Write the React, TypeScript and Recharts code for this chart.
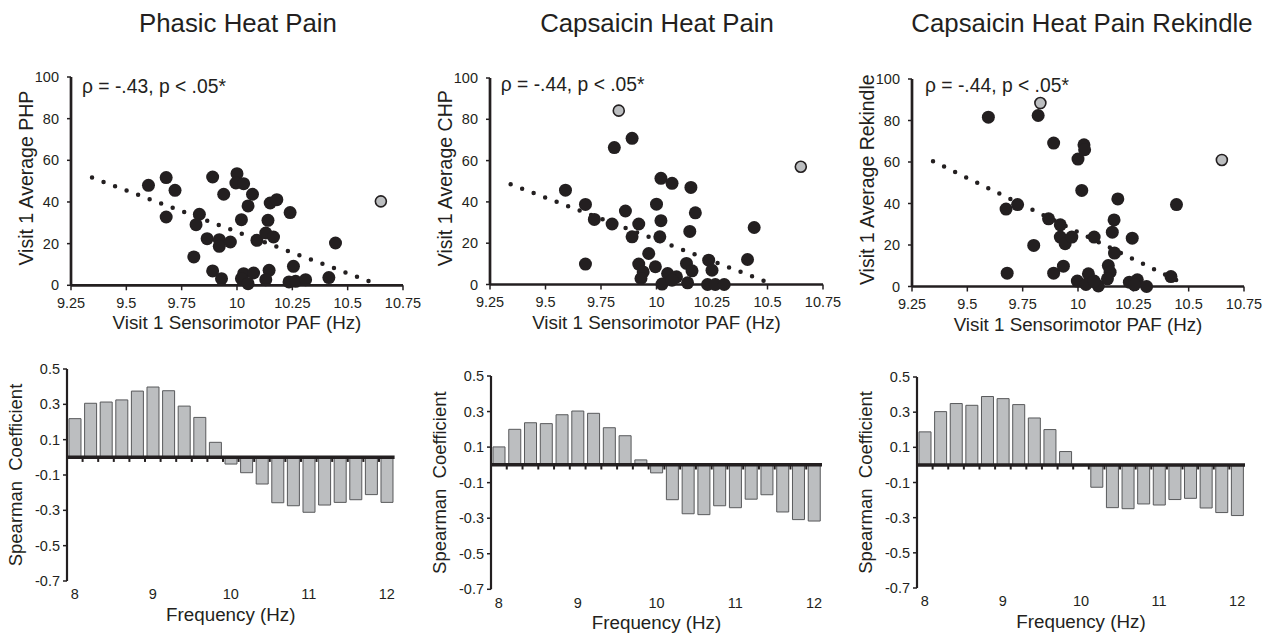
import {
  Bar,
  BarChart,
  ReferenceLine,
  Scatter,
  ScatterChart,
  XAxis,
  YAxis,
} from "recharts";

const FONT = '"Liberation Sans", Arial, sans-serif';
const INK = "#231f20";

// axis ticks
const pafTicks = [9.25, 9.5, 9.75, 10, 10.25, 10.5, 10.75];
const painTicks = [0, 20, 40, 60, 80, 100];
const freqTicks = [8, 9, 10, 11, 12];
const rhoTicks = [-0.7, -0.5, -0.3, -0.1, 0.1, 0.3, 0.5];

// top row: [PAF (Hz), pain rating]
const phpPoints: [number, number][] = [
  [9.6, 48], [9.68, 51.7], [9.72, 45.6], [9.68, 32.8], [9.89, 52], [10.0, 53.6],
  [9.995, 49.1], [10.03, 48.8], [9.94, 43.7], [10.07, 43.7], [10.05, 38.1], [10.02, 31.5],
  [10.15, 39.5], [10.18, 41.1], [10.24, 34.9], [9.83, 34.1], [9.815, 29.1], [10.14, 31.2],
  [9.865, 22.4], [9.92, 21.9], [9.92, 18.7], [9.97, 20.8], [10.09, 21.6], [10.13, 25.1],
  [10.165, 23.2], [9.805, 13.6], [10.445, 20.3], [9.89, 6.9], [9.93, 3.2], [10.03, 5.6],
  [10.075, 5.9], [10.02, 3.2], [10.05, 0.8], [10.145, 7.2], [10.13, 2.7], [10.255, 9.1],
  [10.235, 1.6], [10.265, 1.9], [10.31, 2.7], [10.415, 3.7],
];
const phpOutliers: [number, number][] = [[10.65, 40.3]];
const phpTrend: [number, number][] = [[9.345, 51.7], [10.638, 0.3]];

const chpPoints: [number, number][] = [
  [9.59, 45.7], [9.68, 38.8], [9.68, 9.9], [9.72, 31.5], [9.81, 66.3], [9.89, 70.8],
  [9.86, 35.6], [9.8, 29.3], [9.92, 29.3], [9.89, 23.1], [10.0, 38.9], [10.02, 51.4],
  [10.07, 49], [10.02, 30.9], [10.015, 23.1], [10.155, 47], [10.175, 34.7], [10.15, 25.7],
  [9.965, 15], [9.92, 9.9], [9.94, 6.1], [9.93, 2.9], [9.995, 8.6], [10.025, 0.2],
  [10.05, 5.3], [10.09, 3.7], [10.07, 2.1], [10.135, 10.2], [10.16, 6.6], [10.14, 0.8],
  [10.235, 11.8], [10.25, 6.9], [10.23, 0], [10.265, 0], [10.305, 0], [10.41, 12.1],
  [10.44, 27.6],
];
const chpOutliers: [number, number][] = [[9.83, 84.2], [10.65, 57]];
const chpTrend: [number, number][] = [[9.343, 48.5], [10.528, 0]];

const rekPoints: [number, number][] = [
  [9.595, 81.6], [9.82, 82.4], [9.89, 69.1], [10.0, 61.4], [10.027, 68.3], [10.03, 65.9],
  [10.017, 46.3], [10.18, 42.2], [10.445, 39.5], [9.675, 37.3], [9.727, 39.5], [9.867, 32.6],
  [9.92, 29.7], [9.92, 23.8], [9.942, 20.6], [9.972, 23.8], [10.073, 23.8], [10.163, 32.1],
  [10.155, 26.2], [10.245, 23.3], [9.8, 19.8], [10.165, 16.1], [9.68, 6.4], [9.89, 6.4],
  [9.934, 9.8], [9.997, 2.6], [10.047, 6.1], [10.036, 1], [10.092, 0.3], [10.073, 2.6],
  [10.137, 10.1], [10.145, 6.9], [10.133, 3.7], [10.232, 2.1], [10.268, 3.2], [10.255, 0.8],
  [10.31, 0], [10.42, 4.8],
];
const rekOutliers: [number, number][] = [[9.83, 88.4], [10.65, 61]];
const rekTrend: [number, number][] = [[9.345, 60.4], [10.488, 0.8]];

// bottom row: spearman coefficient per frequency bin
const frequencies = [
  8, 8.2, 8.4, 8.6, 8.8, 9, 9.2, 9.4, 9.6, 9.8, 10, 10.2, 10.4, 10.6, 10.8, 11, 11.2, 11.4,
  11.6, 11.8, 12,
];
const phpRho = [
  0.219, 0.306, 0.313, 0.325, 0.375, 0.398, 0.377, 0.29, 0.226, 0.085, -0.038, -0.087,
  -0.151, -0.257, -0.274, -0.311, -0.27, -0.255, -0.24, -0.211, -0.255,
];
const chpRho = [
  0.101, 0.2, 0.237, 0.232, 0.282, 0.303, 0.29, 0.209, 0.164, 0.028, -0.045, -0.196,
  -0.275, -0.28, -0.23, -0.241, -0.193, -0.168, -0.265, -0.308, -0.316,
];
const rekRho = [
  0.188, 0.303, 0.349, 0.339, 0.389, 0.377, 0.343, 0.267, 0.201, 0.076, 0, -0.127,
  -0.243, -0.249, -0.222, -0.228, -0.197, -0.19, -0.245, -0.271, -0.288,
];

const toXY = (pts: [number, number][]) => pts.map(([x, y]) => ({ x, y }));

const blackDot = (p: any) => <circle cx={p.cx} cy={p.cy} r={6.5} fill={INK} />;
const grayDot = (p: any) => (
  <circle cx={p.cx} cy={p.cy} r={5.5} fill="#bcbec0" stroke={INK} strokeWidth={1.6} />
);

const tickStyle = { fill: INK, fontSize: 14.5 };

type ScatterProps = {
  left: number;
  top: number;
  width: number;
  height: number;
  points: [number, number][];
  outliers: [number, number][];
  trend: [number, number][];
  yTitle: string;
};

function ScatterPanel({ left, top, width, height, points, outliers, trend, yTitle }: ScatterProps) {
  const yAxisW = 80;
  const mTop = 10;
  return (
    <div style={{ position: "absolute", left: left - yAxisW, top: top - mTop }}>
      <ScatterChart
        width={width + yAxisW + 25}
        height={height + mTop + 60}
        margin={{ top: mTop, right: 25, left: 0, bottom: 0 }}
      >
        <XAxis
          type="number"
          dataKey="x"
          domain={[9.25, 10.75]}
          ticks={pafTicks}
          interval={0}
          height={60}
          axisLine={{ stroke: INK, strokeWidth: 2.7 }}
          tickLine={{ stroke: INK, strokeWidth: 1.5 }}
          tickSize={5}
          tickMargin={7}
          tick={tickStyle}
          label={{
            content: () => (
              <text
                x={yAxisW + width / 2}
                y={mTop + height + 44}
                textAnchor="middle"
                fontSize={18.8}
                fill={INK}
              >
                Visit 1 Sensorimotor PAF (Hz)
              </text>
            ),
          }}
        />
        <YAxis
          type="number"
          dataKey="y"
          domain={[0, 100]}
          ticks={painTicks}
          interval={0}
          width={yAxisW}
          axisLine={{ stroke: INK, strokeWidth: 2.7 }}
          tickLine={{ stroke: INK, strokeWidth: 1.5 }}
          tickSize={4}
          tickMargin={8}
          tick={tickStyle}
          label={{
            content: () => {
              const x = yAxisW - 38;
              const y = mTop + height / 2 - 3;
              return (
                <text
                  x={x}
                  y={y}
                  transform={`rotate(-90 ${x} ${y})`}
                  textAnchor="middle"
                  fontSize={19.5}
                  fill={INK}
                >
                  {yTitle}
                </text>
              );
            },
          }}
        />
        <ReferenceLine
          segment={[
            { x: trend[0][0], y: trend[0][1] },
            { x: trend[1][0], y: trend[1][1] },
          ]}
          stroke={INK}
          strokeWidth={4.5}
          strokeDasharray="0 12.3"
          strokeLinecap="round"
        />
        <Scatter data={toXY(points)} shape={blackDot} isAnimationActive={false} />
        <Scatter data={toXY(outliers)} shape={grayDot} isAnimationActive={false} />
      </ScatterChart>
    </div>
  );
}

type BarProps = {
  left: number;
  top: number;
  width: number;
  height: number;
  values: number[];
};

function BarPanel({ left, top, width, height, values }: BarProps) {
  const yAxisW = 80;
  const mTop = 10;
  const data = frequencies.map((f, i) => ({ f, v: values[i] }));
  const edges = frequencies.slice(1).map((f, i) => (f + frequencies[i]) / 2);
  return (
    <div style={{ position: "absolute", left: left - yAxisW, top: top - mTop }}>
      <BarChart
        width={width + yAxisW + 15}
        height={height + mTop + 50}
        margin={{ top: mTop, right: 15, left: 0, bottom: 0 }}
        data={data}
      >
        <XAxis
          type="number"
          dataKey="f"
          domain={[7.9, 12.1]}
          ticks={freqTicks}
          interval={0}
          height={50}
          axisLine={false}
          tickLine={false}
          tickSize={0}
          tickMargin={8}
          tick={tickStyle}
          label={{
            content: () => (
              <text
                x={yAxisW + width / 2}
                y={mTop + height + 40}
                textAnchor="middle"
                fontSize={18.8}
                fill={INK}
              >
                Frequency (Hz)
              </text>
            ),
          }}
        />
        <YAxis
          type="number"
          domain={[-0.7, 0.5]}
          ticks={rhoTicks}
          interval={0}
          width={yAxisW}
          axisLine={{ stroke: INK, strokeWidth: 2.2 }}
          tickLine={{ stroke: INK, strokeWidth: 1.5 }}
          tickSize={4}
          tickMargin={3}
          tick={tickStyle}
          label={{
            content: () => {
              const x = yAxisW - 51;
              const y = mTop + height / 2;
              return (
                <text
                  x={x}
                  y={y}
                  dy={6}
                  transform={`rotate(-90 ${x} ${y})`}
                  textAnchor="middle"
                  fontSize={18.5}
                  fill={INK}
                >
                  {"Spearman\u00a0 Coefficient"}
                </text>
              );
            },
          }}
        />
        <Bar
          dataKey="v"
          barSize={12}
          fill="#bcbec0"
          stroke="#58595b"
          strokeWidth={1}
          isAnimationActive={false}
        />
        <ReferenceLine y={0} stroke={INK} strokeWidth={3.5} />
        {edges.map((e) => (
          <ReferenceLine
            key={e}
            segment={[
              { x: e, y: 0 },
              { x: e, y: -0.026 },
            ]}
            stroke={INK}
            strokeWidth={2}
          />
        ))}
      </BarChart>
    </div>
  );
}

const titleStyle = (cx: number): React.CSSProperties => ({
  position: "absolute",
  left: cx - 250,
  width: 500,
  top: 11,
  textAlign: "center",
  fontSize: 25.8,
  lineHeight: "25.8px",
  whiteSpace: "nowrap",
});

const noteStyle = (x: number, baseline: number): React.CSSProperties => ({
  position: "absolute",
  left: x,
  top: baseline - 16.3,
  fontSize: 19.3,
  lineHeight: "19.3px",
  whiteSpace: "nowrap",
});

export default function App() {
  return (
    <div
      style={{
        position: "absolute",
        left: 0,
        top: 0,
        width: 1264,
        height: 634,
        overflow: "hidden",
        background: "#fff",
        fontFamily: FONT,
        color: INK,
      }}
    >
      <div style={titleStyle(238)}>Phasic Heat Pain</div>
      <div style={titleStyle(657)}>Capsaicin Heat Pain</div>
      <div style={titleStyle(1082)}>Capsaicin Heat Pain Rekindle</div>

      <ScatterPanel
        left={71}
        top={76.7}
        width={332}
        height={208.3}
        points={phpPoints}
        outliers={phpOutliers}
        trend={phpTrend}
        yTitle="Visit 1 Average PHP"
      />
      <ScatterPanel
        left={489.5}
        top={77.8}
        width={333}
        height={206.5}
        points={chpPoints}
        outliers={chpOutliers}
        trend={chpTrend}
        yTitle="Visit 1 Average CHP"
      />
      <ScatterPanel
        left={912}
        top={78.5}
        width={332}
        height={207.5}
        points={rekPoints}
        outliers={rekOutliers}
        trend={rekTrend}
        yTitle="Visit 1 Average Rekindle"
      />

      <div style={noteStyle(82, 93)}>ρ = -.43, p &lt; .05*</div>
      <div style={noteStyle(500.7, 91.7)}>ρ = -.44, p &lt; .05*</div>
      <div style={noteStyle(925, 92)}>ρ = -.44, p &lt; .05*</div>

      <BarPanel left={67.2} top={369} width={327.6} height={212} values={phpRho} />
      <BarPanel left={491} top={375.7} width={331} height={213.3} values={chpRho} />
      <BarPanel left={916.5} top={377.3} width={328} height={211} values={rekRho} />
    </div>
  );
}
